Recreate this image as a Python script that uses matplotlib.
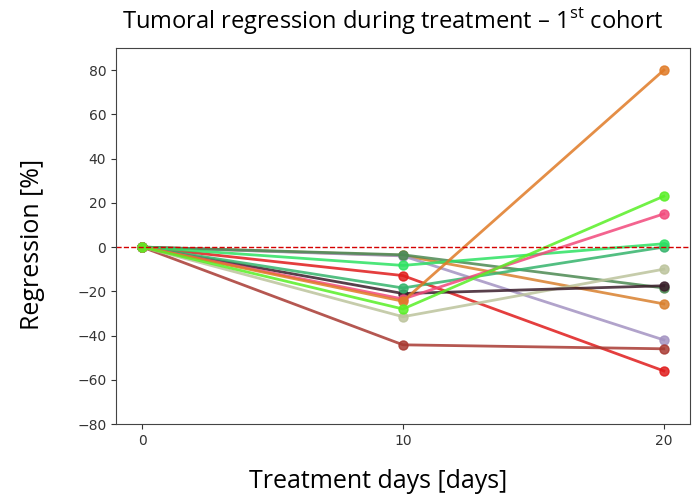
import matplotlib.pyplot as plt

plt.rcParams['mathtext.fontset'] = 'custom'
plt.rcParams['mathtext.rm'] = 'Open Sans'

days = [0, 10, 20]

# regression per patient at day 0, 10, 20 (percent)
orange_up = [0, -24.5, 80]
lime = [0, -28, 23]
pink = [0, -23.5, 15]
bright_green = [0, -8.3, 1.5]
sea_green = [0, -18.5, 0]
khaki = [0, -31.5, -10]
dark = [0, -21, -17.5]
dark_green = [0, -3.5, -18.5]
orange_down = [0, -3.8, -25.7]
lavender = [0, -4, -42]
brown = [0, -44.2, -46]
red = [0, -12.9, -56]

series = [
    (orange_down, '#d9802e'),
    (lavender, '#a493c2'),
    (dark_green, '#4c8a52'),
    (red, '#e01c1c'),
    (brown, '#a83a32'),
    (khaki, '#bcc49c'),
    (dark, '#3b1d2b'),
    (sea_green, '#35b46c'),
    (bright_green, '#2ee263'),
    (pink, '#f2497c'),
    (orange_up, '#e07a26'),
    (lime, '#58ef26'),
]

fig = plt.figure(figsize=(6.99, 5), dpi=100)
ax = fig.add_axes([0.166, 0.152, 0.821, 0.752])

for vals, col in series:
    ax.plot(days, vals, marker='o', color=col, linewidth=2, markersize=6.5, alpha=0.85)

ax.axhline(0, color='#d40000', linestyle='--', linewidth=1)

ax.set_ylim(-80, 90)
ax.set_xticks([0, 10, 20])
ax.set_yticks(range(-80, 81, 20))
ax.tick_params(labelsize=10, colors='#333333')
for s in ax.spines.values():
    s.set_color('#444444')

# axis titles and heading set as figure text
fig.text(0.046, 0.512, 'Regression [%]', rotation=90, ha='center', va='center',
         family='Open Sans', fontsize=18)
fig.text(0.541, 0.036, 'Treatment days [days]', ha='center', va='center',
         family='Open Sans', fontsize=18)
fig.text(0.562, 0.958, 'Tumoral regression during treatment \u2013 1$^{\\mathrm{st}}$ cohort',
         ha='center', va='center', family='Open Sans', fontsize=17)

fig.savefig('out.png', dpi=100)
